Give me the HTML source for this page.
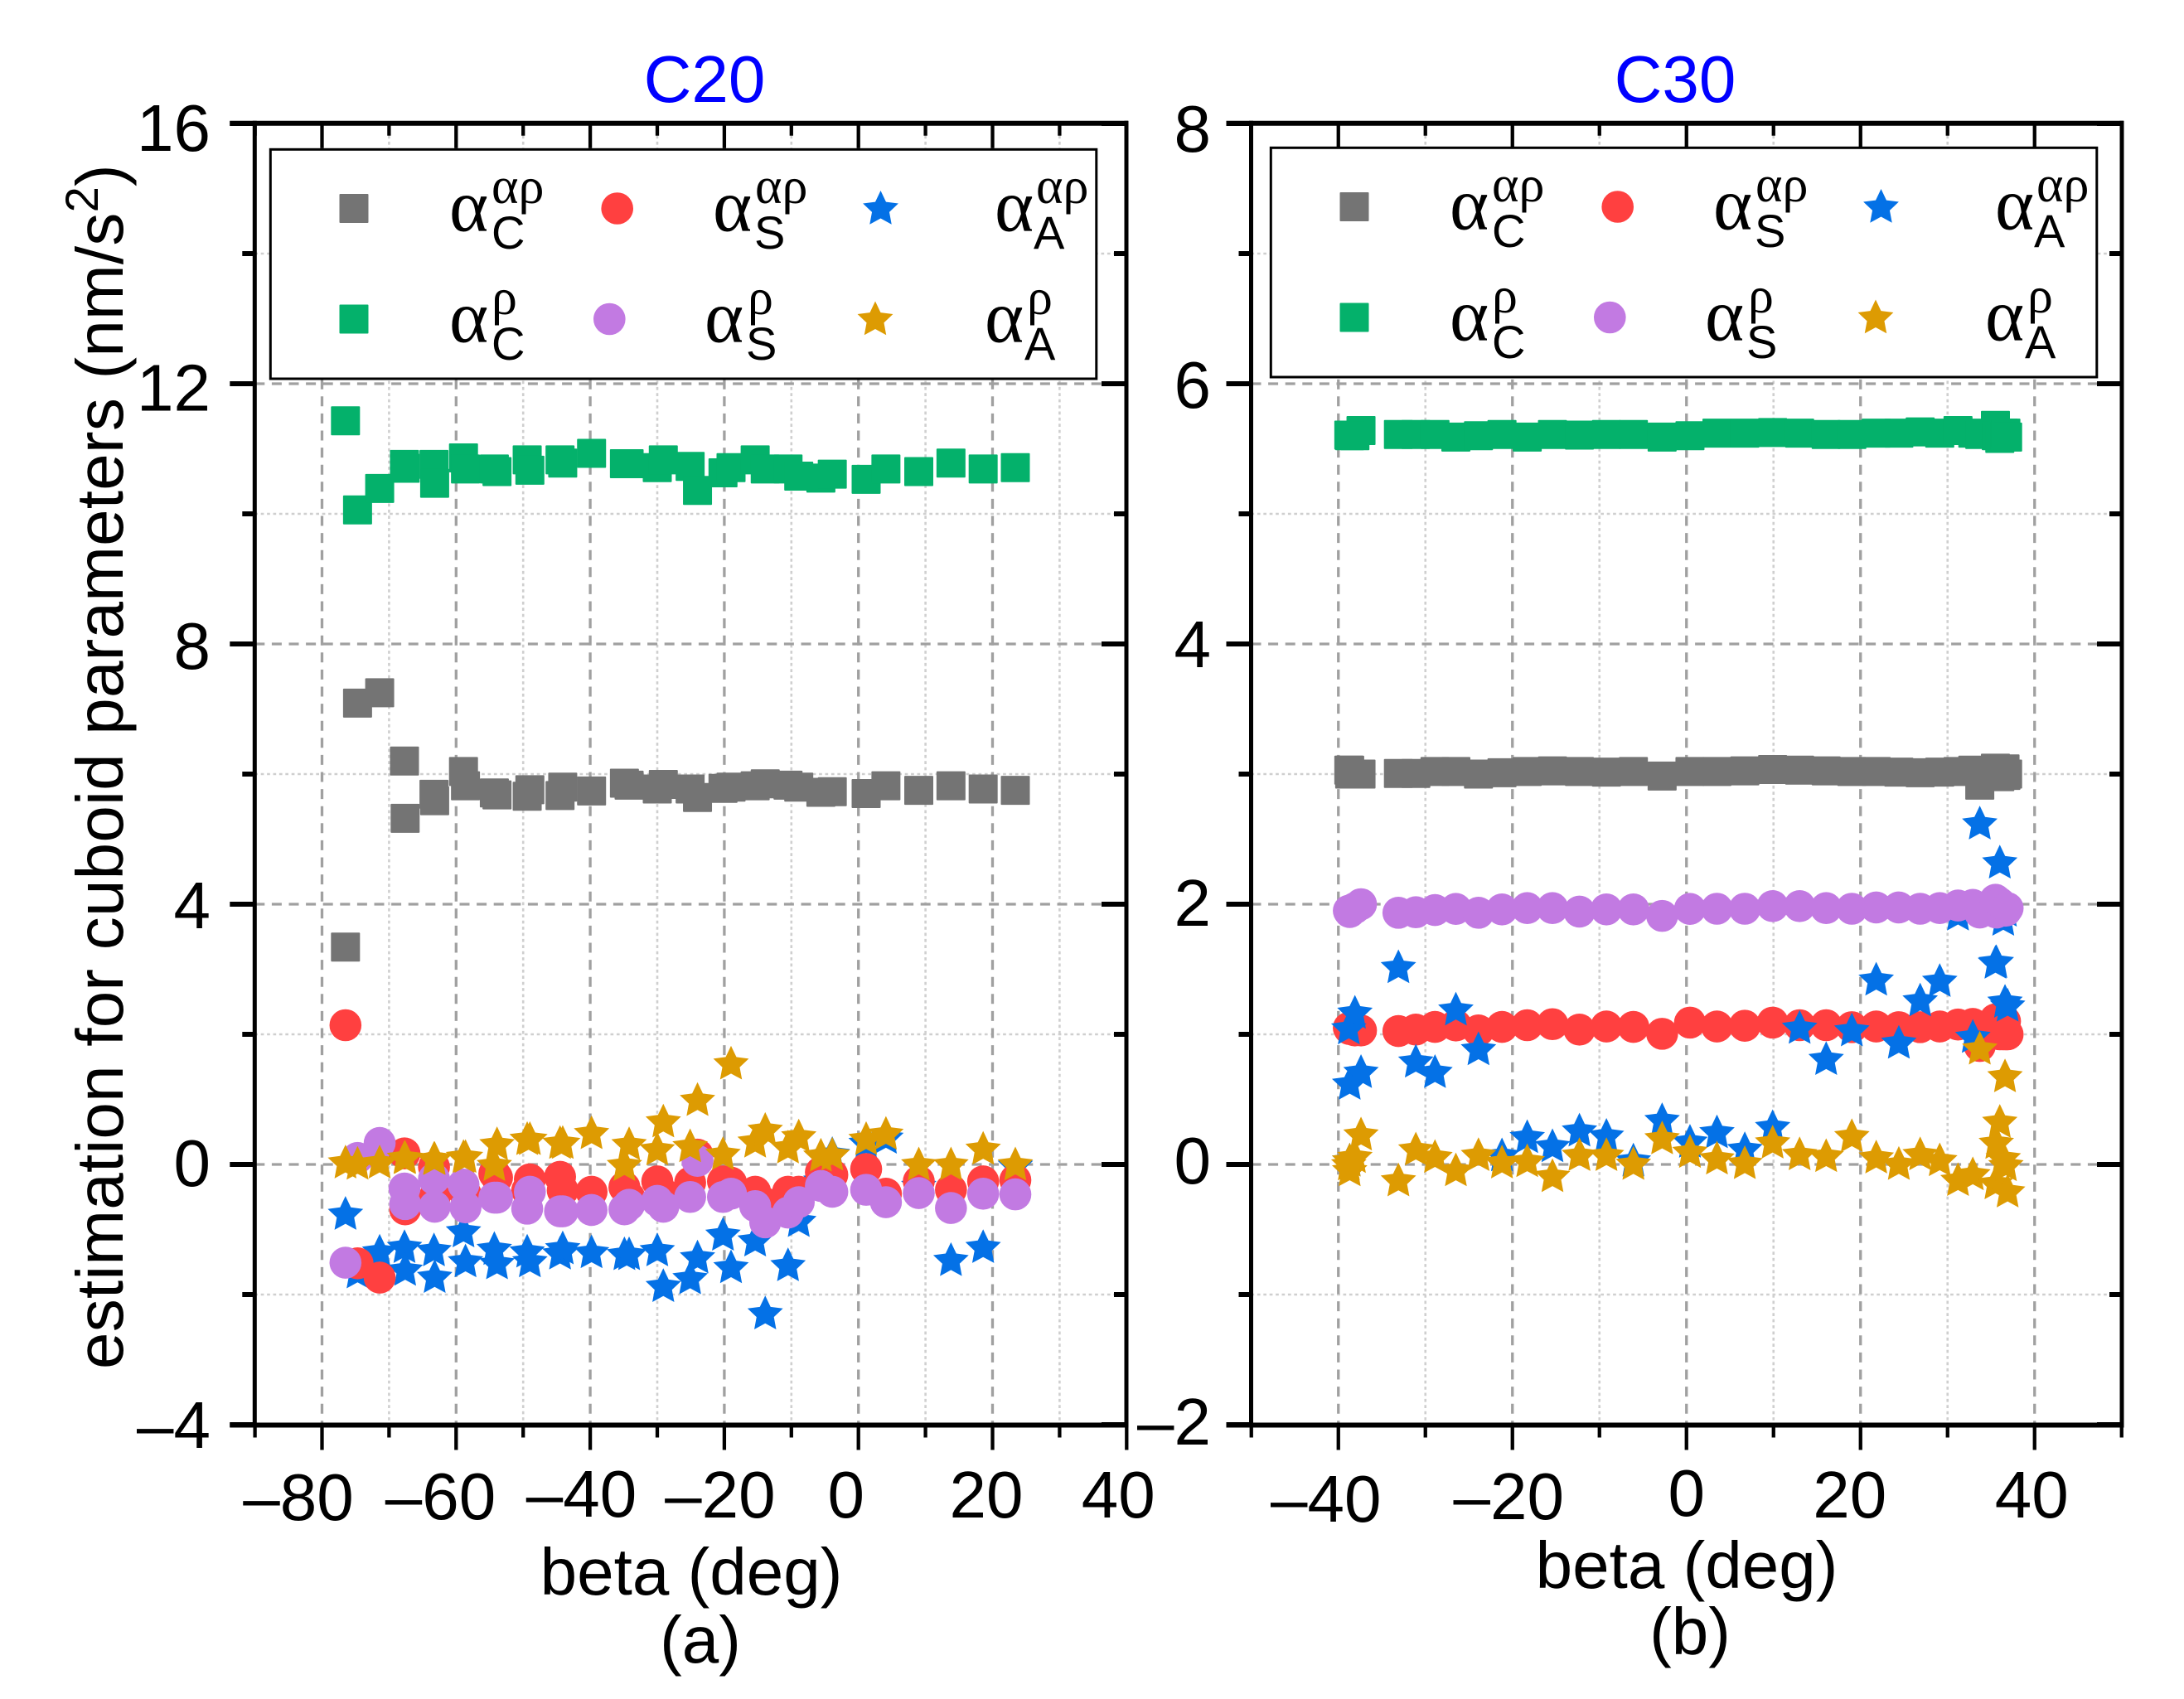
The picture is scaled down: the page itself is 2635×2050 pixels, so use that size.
<!DOCTYPE html>
<html>
<head>
<meta charset="utf-8">
<title>Estimation for cuboid parameters</title>
<style>
html,body{margin:0;padding:0;background:#fff;}
svg{display:block;}
text{font-family:"Liberation Sans",sans-serif;fill:#000;}
</style>
</head>
<body>
<svg id="chart" xmlns="http://www.w3.org/2000/svg" width="2635" height="2050" viewBox="0 0 2635 2050">
  <rect x="0" y="0" width="2635" height="2050" fill="#fff"/>
  <g id="panelA"></g>
  <g id="panelB"></g>
  <text x="850" y="123" font-size="80" text-anchor="middle" style="fill:#0000ff">C20</text>
  <text x="2021" y="123" font-size="80" text-anchor="middle" style="fill:#0000ff">C30</text>
  <text transform="translate(148,1652) rotate(-90)" font-size="80" letter-spacing="0.22">estimation for cuboid parameters (nm/s<tspan font-size="56" dy="-30">2</tspan><tspan dy="30">)</tspan></text>
  <text x="834" y="1924" font-size="80" text-anchor="middle">beta (deg)</text>
  <text x="2035" y="1916" font-size="80" text-anchor="middle">beta (deg)</text>
  <text x="845" y="2006" font-size="80" text-anchor="middle">(a)</text>
  <text x="2039" y="1996" font-size="80" text-anchor="middle">(b)</text>
</svg>
<script>
// Panel (a) C20 data
const betaA = [-76.5,-74.7,-71.4,-67.7,-67.6,-63.3,-63.2,-58.9,-58.6,-54.3,-53.9,-49.4,-49.0,-44.5,-44.1,-39.8,-34.9,-34.2,-30.0,-29.1,-25.1,-24.0,-20.2,-19.0,-15.4,-13.9,-10.5,-8.9,-5.6,-3.9,1.15,4.1,9.0,13.8,18.6,23.4];
const grayA = [3.34,7.09,7.25,6.2,5.32,5.69,5.59,6.04,5.82,5.71,5.68,5.66,5.76,5.67,5.80,5.74,5.86,5.83,5.77,5.84,5.77,5.64,5.78,5.80,5.82,5.85,5.83,5.80,5.72,5.73,5.70,5.82,5.75,5.82,5.77,5.75];
const greenA = [11.43,10.06,10.39,10.76,10.70,10.76,10.47,10.86,10.69,10.69,10.65,10.83,10.67,10.83,10.78,10.93,10.77,10.77,10.71,10.83,10.73,10.36,10.63,10.71,10.83,10.69,10.69,10.58,10.55,10.61,10.53,10.69,10.65,10.78,10.69,10.71];
const blueA = [-0.76,-1.66,-1.34,-1.27,-1.62,-1.32,-1.73,-1.03,-1.49,-1.30,-1.52,-1.34,-1.49,-1.37,-1.29,-1.35,-1.38,-1.38,-1.32,-1.87,-1.75,-1.43,-1.08,-1.58,-1.17,-2.29,-1.55,-0.87,-0.25,0.16,0.33,0.41,-0.33,-1.47,-1.27,-0.02];
const redA = [2.14,-1.52,-1.74,0.17,-0.69,-0.04,-0.5,-0.40,-0.45,-0.14,-0.2,-0.4,-0.23,-0.19,-0.4,-0.42,-0.35,-0.5,-0.26,-0.45,-0.28,0.15,-0.26,-0.28,-0.42,-0.6,-0.42,-0.42,-0.12,-0.16,-0.07,-0.45,-0.26,-0.39,-0.26,-0.24];
const purpleA = [-1.51,0.10,0.33,-0.37,-0.61,-0.22,-0.65,-0.31,-0.66,-0.51,-0.51,-0.68,-0.42,-0.72,-0.72,-0.70,-0.69,-0.62,-0.56,-0.65,-0.50,0.055,-0.50,-0.45,-0.64,-0.89,-0.74,-0.58,-0.33,-0.42,-0.39,-0.58,-0.44,-0.67,-0.45,-0.46];
const goldA = [0.03,0.01,0.03,0.10,0.10,0.085,0.085,0.115,0.115,-0.01,0.31,0.39,0.39,0.33,0.33,0.48,-0.01,0.31,0.23,0.66,0.28,0.99,0.16,1.55,0.35,0.53,0.26,0.43,0.135,0.15,0.39,0.47,0.0,0.0,0.24,0.0];

// Panel (b) C30 data
const betaB = [-38.7,-38.8,-38.1,-37.4,-38.7,-33.1,-31.1,-28.9,-26.5,-23.9,-21.2,-18.3,-15.4,-12.3,-9.2,-6.1,-2.8,0.4,3.5,6.7,9.9,13.0,16.05,19,21.8,24.4,26.85,29.1,31.2,32.9,33.7,35.5,35.6,36,36.4,36.6,36.7,36.9];
const grayB = [3.03,3.03,3.0,3.0,3.0,3.005,3.005,3.02,3.02,3.0,3.01,3.02,3.025,3.02,3.015,3.02,2.985,3.02,3.02,3.025,3.035,3.03,3.025,3.02,3.02,3.015,3.01,3.015,3.02,3.03,2.915,3.045,3.02,2.98,3.0,3.04,2.99,3.0];
const greenB = [5.605,5.605,5.6,5.64,5.6,5.61,5.61,5.61,5.59,5.6,5.61,5.59,5.61,5.605,5.61,5.61,5.59,5.6,5.62,5.62,5.625,5.62,5.61,5.61,5.62,5.62,5.63,5.62,5.64,5.62,5.61,5.68,5.6,5.58,5.62,5.6,5.62,5.59];
const redB = [1.05,1.05,1.03,1.03,1.04,1.025,1.036,1.057,1.068,1.03,1.057,1.07,1.078,1.036,1.06,1.057,1.004,1.09,1.06,1.066,1.09,1.07,1.07,1.055,1.06,1.055,1.055,1.06,1.075,1.08,0.91,1.115,1.11,1.0,1.0,1.1,1.0,1.0];
const purpleB = [1.95,1.95,1.97,2.0,1.94,1.934,1.938,1.955,1.964,1.934,1.96,1.97,1.97,1.943,1.96,1.96,1.91,1.964,1.965,1.965,1.985,1.985,1.97,1.965,1.975,1.975,1.965,1.97,1.99,1.995,1.936,2.034,1.936,2.008,1.95,1.96,1.95,1.97];
const blueB = [0.62,1.045,1.166,0.71,0.03,1.516,0.79,0.71,1.19,0.885,0.07,0.21,0.14,0.26,0.22,0.03,0.34,0.174,0.247,0.117,0.287,1.05,0.81,1.03,1.42,0.935,1.26,1.41,1.92,0.98,2.62,1.55,1.555,2.32,1.88,1.25,1.95,1.22];
const goldB = [-0.045,0,0.057,0.23,0.03,-0.123,0.115,0.057,-0.045,0.072,0.015,0.025,-0.09,0.072,0.072,0.004,0.20,0.096,0.045,0.01,0.168,0.078,0.064,0.217,0.053,0.004,0.078,0.032,-0.12,-0.076,0.89,-0.145,0.165,0.327,0.047,0.677,-0.006,-0.208];

// Tick values
const xMajorA = [-80,-60,-40,-20,0,20,40];
const xMinorA = [-90,-70,-50,-30,-10,10,30];
const yMajorA = [16,12,8,4,0,-4];
const yMinorA = [14,10,6,2,-2];
const xMajorB = [-40,-20,0,20,40];
const xMinorB = [-50,-30,-10,10,30,50];
const yMajorB = [8,6,4,2,0,-2];
const yMinorB = [7,5,3,1,-1];
const xTickLabelsA = ['\u201380','\u201360','\u201340','\u201320','0','20','40'];
const yTickLabelsA = ['16','12','8','4','0','\u20134'];
const xTickLabelsB = ['\u201340','\u201320','0','20','40'];
const yTickLabelsB = ['8','6','4','2','0','\u20132'];

// Label placement nudges from the tick position (layout only)
const xLabelShiftA = [-28.5,-18.8,-10.6,-5,-15,-7.5,-10];
const xLabelBaseA = [1834,1833,1830,1831,1831,1831,1831];
const yLabelDropA = [33,32.5,30,29,26,28];
const xLabelShiftB = [-15,-4.5,0,-13,-3.5];
const xLabelBaseB = [1836,1833,1829,1831,1831];
const yLabelDropB = [34,29,28,26,23,24];

const NS = 'http://www.w3.org/2000/svg';
const COLORS = {gray:'#747474', green:'#04b16b', red:'#ff4040', purple:'#c27ae2', blue:'#0471e6', gold:'#dd9b02'};

function make(tag, attrs, parent) {
  const el = document.createElementNS(NS, tag);
  for (const k in attrs) el.setAttribute(k, attrs[k]);
  parent.appendChild(el);
  return el;
}

function starPoints(cx, cy) {
  const R = 22.5, r = 11, pts = [];
  for (let i = 0; i < 10; i++) {
    const rad = i % 2 ? r : R;
    const a = -Math.PI / 2 + i * Math.PI / 5;
    pts.push((cx + rad * Math.cos(a)).toFixed(2) + ',' + (cy + rad * Math.sin(a)).toFixed(2));
  }
  return pts.join(' ');
}

function marker(kind, color, cx, cy, parent) {
  if (kind === 'square') {
    return make('rect', {x: cx - 17.5, y: cy - 17.5, width: 35, height: 35, rx: 1, fill: color}, parent);
  }
  if (kind === 'circle') {
    return make('circle', {cx: cx, cy: cy, r: 19.3, fill: color}, parent);
  }
  return make('polygon', {points: starPoints(cx, cy + 1), fill: color}, parent);
}

function drawPanel(cfg) {
  const g = document.getElementById(cfg.id);
  const X = v => cfg.x0 + cfg.sx * v;
  const Y = v => 1405 - cfg.sy * v;
  const L = cfg.left, R = cfg.right, T = 148.7, B = 1719.5;

  // Grid
  const grid = make('g', {}, g);
  
  
  cfg.yMinor.forEach(v => {
    make('line', {x1: L, x2: R, y1: Y(v), y2: Y(v), stroke: '#cfcfcf', 'stroke-width': 2.6, 'stroke-dasharray': '3.7 3.7'}, grid);
  });
  cfg.xMinor.forEach(v => {
    if (X(v) > L + 3 && X(v) < R - 3) make('line', {x1: X(v), x2: X(v), y1: T, y2: B, stroke: '#cfcfcf', 'stroke-width': 2.6, 'stroke-dasharray': '3.7 3.7'}, grid);
  });
  cfg.yMajor.forEach(v => {
    if (Y(v) > T + 3 && Y(v) < B - 3) make('line', {x1: L, x2: R, y1: Y(v), y2: Y(v), stroke: '#a0a0a0', 'stroke-width': 3.3, 'stroke-dasharray': '12 8.6'}, grid);
  });
  cfg.xMajor.forEach(v => {
    if (X(v) > L + 3 && X(v) < R - 3) make('line', {x1: X(v), x2: X(v), y1: T, y2: B, stroke: '#a0a0a0', 'stroke-width': 3.3, 'stroke-dasharray': '12 8.6'}, grid);
  });

  // Axes and ticks
  const ax = make('g', {stroke: '#000'}, g);
  
  
  make('line', {x1: L, x2: L, y1: T - 3, y2: B + 3, 'stroke-width': 5}, ax);
  make('line', {x1: R, x2: R, y1: T - 3, y2: B + 3, 'stroke-width': 5}, ax);
  cfg.yMajor.forEach(v => {
    make('line', {x1: L - 30, x2: L, y1: Y(v), y2: Y(v), 'stroke-width': 6}, ax);
    make('line', {x1: R - 30, x2: R, y1: Y(v), y2: Y(v), 'stroke-width': 6}, ax);
  });
  cfg.yMinor.forEach(v => {
    make('line', {x1: L - 15, x2: L, y1: Y(v), y2: Y(v), 'stroke-width': 6}, ax);
    make('line', {x1: R - 15, x2: R, y1: Y(v), y2: Y(v), 'stroke-width': 6}, ax);
  });
  make('line', {x1: L - 30, x2: R + 2, y1: T, y2: T, 'stroke-width': 6}, ax);
  make('line', {x1: L - 30, x2: R + 2, y1: B, y2: B, 'stroke-width': 6}, ax);
  cfg.xMajor.forEach(v => {
    make('line', {x1: X(v), x2: X(v), y1: B, y2: B + 30, 'stroke-width': 4.3}, ax);
    make('line', {x1: X(v), x2: X(v), y1: T, y2: T + 30, 'stroke-width': 4.3}, ax);
  });
  cfg.xMinor.forEach(v => {
    make('line', {x1: X(v), x2: X(v), y1: B, y2: B + 15, 'stroke-width': 4.3}, ax);
    make('line', {x1: X(v), x2: X(v), y1: T, y2: T + 15, 'stroke-width': 4.3}, ax);
  });

  // Tick labels
  cfg.xMajor.forEach((v, i) => {
    const t = make('text', {x: X(v) + cfg.xShift[i], y: cfg.xBase[i], 'font-size': 80, 'text-anchor': 'middle'}, g);
    t.textContent = cfg.xLabels[i];
    
    
  });
  cfg.yMajor.forEach((v, i) => {
    const t = make('text', {x: cfg.yLabelX, y: Y(v) + cfg.yDrop[i], 'font-size': 80, 'text-anchor': 'end'}, g);
    t.textContent = cfg.yLabels[i];
    
    
  });

  // Series
  cfg.series.forEach(s => {
    const sg = make('g', {}, g);
    
    
    s.values.forEach((v, i) => {
      const m = marker(s.kind, s.color, X(cfg.beta[i]), Y(v), sg);
      
      
    });
  });

  // Legend
  const dx = cfg.legendDx, dy = cfg.legendDy;
  const lg = make('g', {}, g);
  
  
  make('rect', {x: 1533.3 + dx, y: 178.3 + dy, width: 996.5, height: 276.7, fill: '#fff', stroke: '#000', 'stroke-width': 3}, lg);
  const entries = [
    {kind:'square', color:COLORS.gray,   name:'alpha-c-alpha-rho', mx:1634,   my:249.5, ax:1750, sx:1800, bx:1801, sup:'\u03b1\u03c1', sub:'C', b:276.7},
    {kind:'circle', color:COLORS.red,    name:'alpha-s-alpha-rho', mx:1951.7, my:249.5, ax:2068, sx:2118, bx:2118, sup:'\u03b1\u03c1', sub:'S', b:276.7},
    {kind:'star',   color:COLORS.blue,   name:'alpha-a-alpha-rho', mx:2269.5, my:249.5, ax:2408, sx:2457, bx:2455, sup:'\u03b1\u03c1', sub:'A', b:276.7},
    {kind:'square', color:COLORS.green,  name:'alpha-c-rho',       mx:1634,   my:383,   ax:1750, sx:1800, bx:1801, sup:'\u03c1', sub:'C', b:410.7},
    {kind:'circle', color:COLORS.purple, name:'alpha-s-rho',       mx:1942.3, my:383,   ax:2058, sx:2109, bx:2108, sup:'\u03c1', sub:'S', b:410.7},
    {kind:'star',   color:COLORS.gold,   name:'alpha-a-rho',       mx:2263,   my:383,   ax:2396, sx:2446, bx:2444, sup:'\u03c1', sub:'A', b:410.7}
  ];
  entries.forEach(e => {
    const eg = make('g', {}, lg);
    
    
    marker(e.kind, e.color, e.mx + dx, e.my + dy, eg);
    const a = make('text', {x: e.ax + dx - 1, y: e.b + dy, 'font-size': 90, style: 'font-family:"Liberation Serif",serif'}, eg);
    a.textContent = '\u03b1';
    const sp = make('text', {x: e.sx + dx, y: e.b - 33.7 + dy, 'font-size': 62, style: 'font-family:"Liberation Serif",serif'}, eg);
    sp.textContent = e.sup;
    const sb = make('text', {x: e.bx + dx - 1, y: e.b + 21.5 + dy, 'font-size': 56}, eg);
    sb.textContent = e.sub;
  });
}

drawPanel({
  id:'panelA', tag:'panel-a', x0:1035.7, sx:8.09, sy:78.5, left:307.3, right:1359,
  xMajor:xMajorA, xMinor:xMinorA, yMajor:yMajorA, yMinor:yMinorA,
  xLabels:xTickLabelsA, yLabels:yTickLabelsA, xShift:xLabelShiftA, xBase:xLabelBaseA, yDrop:yLabelDropA, yLabelX:254,
  beta:betaA, legendDx:-1207, legendDy:2,
  series:[
    {name:'gray-square', kind:'square', color:COLORS.gray, values:grayA},
    {name:'blue-star', kind:'star', color:COLORS.blue, values:blueA},
    {name:'red-circle', kind:'circle', color:COLORS.red, values:redA},
    {name:'green-square', kind:'square', color:COLORS.green, values:greenA},
    {name:'purple-circle', kind:'circle', color:COLORS.purple, values:purpleA},
    {name:'gold-star', kind:'star', color:COLORS.gold, values:goldA}
  ]
});

drawPanel({
  id:'panelB', tag:'panel-b', x0:2034.75, sx:10.5, sy:157, left:1509.5, right:2560,
  xMajor:xMajorB, xMinor:xMinorB, yMajor:yMajorB, yMinor:yMinorB,
  xLabels:xTickLabelsB, yLabels:yTickLabelsB, xShift:xLabelShiftB, xBase:xLabelBaseB, yDrop:yLabelDropB, yLabelX:1461,
  beta:betaB, legendDx:0, legendDy:0,
  series:[
    {name:'gray-square', kind:'square', color:COLORS.gray, values:grayB},
    {name:'red-circle', kind:'circle', color:COLORS.red, values:redB},
    {name:'blue-star', kind:'star', color:COLORS.blue, values:blueB},
    {name:'green-square', kind:'square', color:COLORS.green, values:greenB},
    {name:'purple-circle', kind:'circle', color:COLORS.purple, values:purpleB},
    {name:'gold-star', kind:'star', color:COLORS.gold, values:goldB}
  ]
});
</script>
</body>
</html>
